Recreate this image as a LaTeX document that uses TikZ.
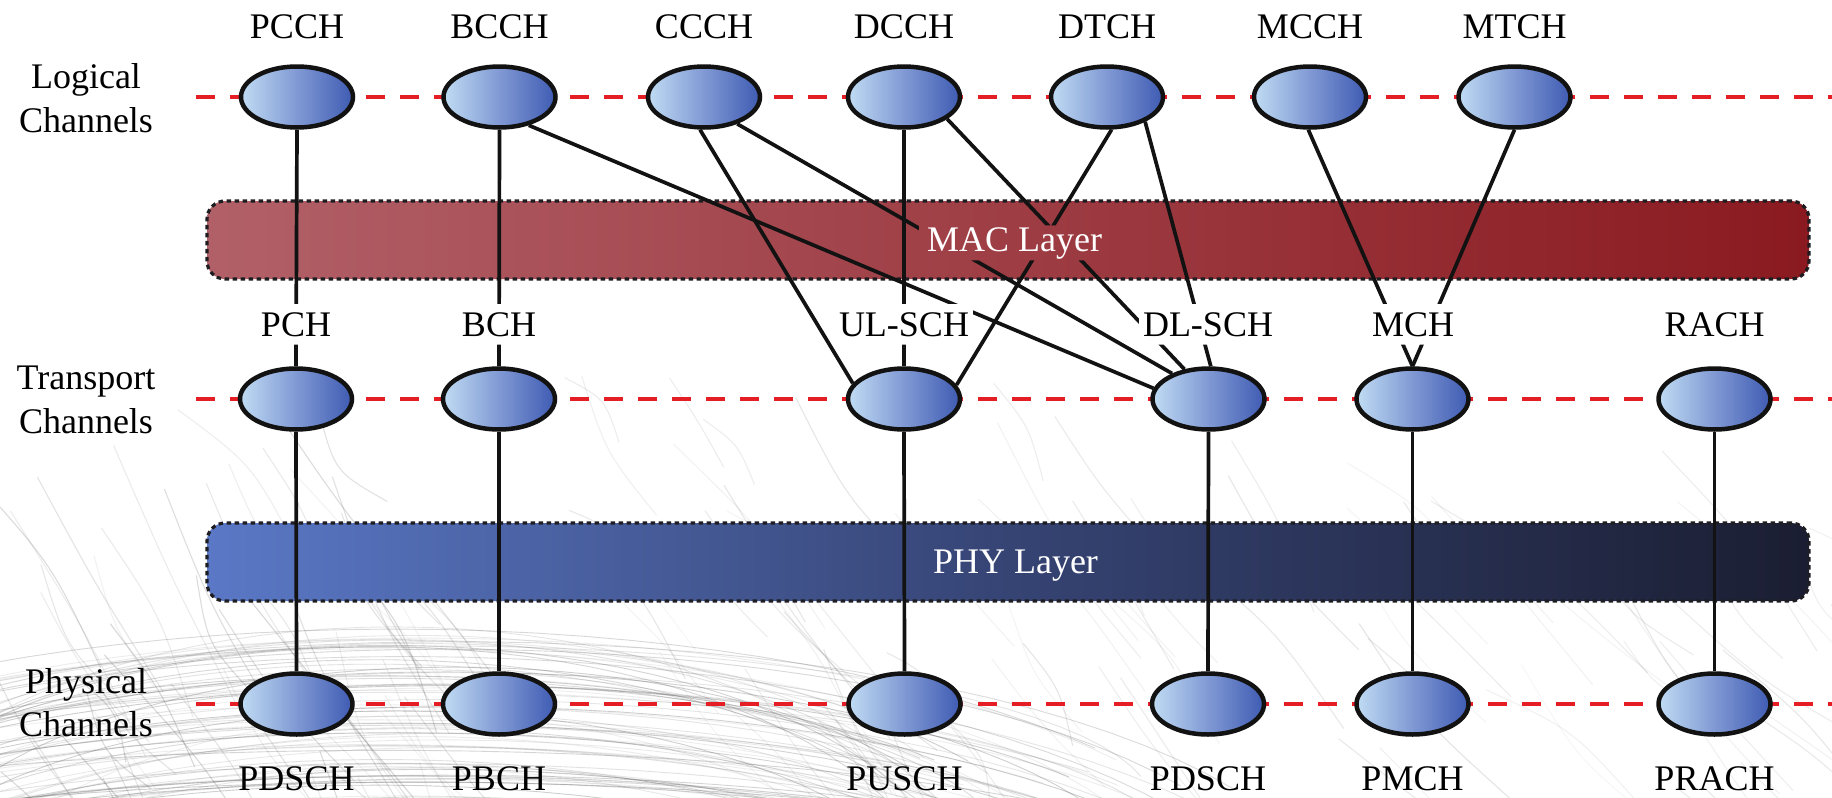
\documentclass[tikz,border=0pt]{standalone}
\usepackage{fontspec}
\setmainfont{Liberation Serif}
\usetikzlibrary{shapes.geometric}

\definecolor{chanred}{RGB}{228,30,36}
\definecolor{ellL}{RGB}{192,220,243}
\definecolor{ellM}{RGB}{128,153,212}
\definecolor{ellR}{RGB}{63,91,178}
\definecolor{macL}{RGB}{178,96,104}
\definecolor{macR}{RGB}{138,26,32}
\definecolor{phyL}{RGB}{90,120,198}
\definecolor{phyM}{RGB}{54,68,116}
\definecolor{phyR}{RGB}{27,30,50}
\definecolor{ink}{RGB}{18,18,18}
\definecolor{rim}{RGB}{30,30,34}

\tikzset{
  chan/.style={ellipse, draw=ink, line width=4.5pt, minimum width=112pt,
    minimum height=61pt, inner sep=0pt,
    left color=ellL, right color=ellR, middle color=ellM},
  lbl/.style={font=\fontsize{36}{43}\selectfont, anchor=base, inner sep=0pt, text=black},
  tlbl/.style={lbl, inner xsep=4pt, inner ysep=8pt},
  layerlbl/.style={lbl, text=white, inner xsep=8pt, inner ysep=1.5pt},
  layerbox/.style={rectangle, rounded corners=18pt, draw=rim, line width=3.2pt,
    dash pattern=on 4.5pt off 3.5pt, minimum width=1602pt, minimum height=78pt, inner sep=0pt},
  chanline/.style={draw=chanred, line width=4pt, dash pattern=on 19pt off 15pt},
  conn/.style={draw=ink, line width=3.7pt},
  bgline/.style={draw=black!60, line width=1.1pt},
}

\begin{document}
\begin{tikzpicture}[x=1pt,y=-1pt]
\useasboundingbox (0,0) rectangle (1832,798);
\fill[white] (0,0) rectangle (1832,798);

% faint brush-stroke texture in the lower half
\begin{scope}
  \clip (0,0) rectangle (1832,798);
  \pgfmathsetseed{2718}
  % sweeping arcs in the lower left
  \foreach \i in {1,...,75}{
    \pgfmathsetmacro\cx{370+90*rnd}
    \pgfmathsetmacro\ry{150+200*rnd}
    \pgfmathsetmacro\cy{625+175*rnd+\ry}
    \pgfmathsetmacro\rx{550+380*rnd}
    \pgfmathsetmacro\ta{10+30*rnd}
    \pgfmathsetmacro\tb{145+30*rnd}
    \pgfmathsetmacro\op{0.10+0.22*rnd}
    \draw[bgline, opacity=\op, line width=0.9pt] plot[domain=\ta:\tb, samples=40, variable=\t]
      ({\cx+\rx*cos(\t)}, {\cy-\ry*sin(\t)});
  }
  % hair strokes on the left
  \foreach \i in {1,...,60}{
    \pgfmathsetmacro\xa{-40+480*rnd}
    \pgfmathsetmacro\ya{380+420*rnd}
    \pgfmathsetmacro\ang{48+18*rnd}
    \pgfmathsetmacro\len{90+220*rnd}
    \pgfmathsetmacro\bend{-25+50*rnd}
    \pgfmathsetmacro\xb{\xa+\len*cos(\ang)}
    \pgfmathsetmacro\yb{\ya+\len*sin(\ang)}
    \pgfmathsetmacro\xc{(\xa+\xb)/2-\bend*sin(\ang)}
    \pgfmathsetmacro\yc{(\ya+\yb)/2+\bend*cos(\ang)}
    \pgfmathsetmacro\op{0.06+0.2*rnd}
    \draw[bgline, opacity=\op] (\xa,\ya) .. controls (\xc,\yc) .. (\xb,\yb);
  }
  % hair strokes in the middle
  \foreach \i in {1,...,50}{
    \pgfmathsetmacro\xa{560+700*rnd}
    \pgfmathsetmacro\ya{370+380*rnd}
    \pgfmathsetmacro\ang{45+20*rnd}
    \pgfmathsetmacro\len{80+180*rnd}
    \pgfmathsetmacro\bend{-20+40*rnd}
    \pgfmathsetmacro\xb{\xa+\len*cos(\ang)}
    \pgfmathsetmacro\yb{\ya+\len*sin(\ang)}
    \pgfmathsetmacro\xc{(\xa+\xb)/2-\bend*sin(\ang)}
    \pgfmathsetmacro\yc{(\ya+\yb)/2+\bend*cos(\ang)}
    \pgfmathsetmacro\op{0.05+0.12*rnd}
    \draw[bgline, opacity=\op] (\xa,\ya) .. controls (\xc,\yc) .. (\xb,\yb);
  }
  % hair strokes on the right
  \foreach \i in {1,...,35}{
    \pgfmathsetmacro\xa{1330+520*rnd}
    \pgfmathsetmacro\ya{430+370*rnd}
    \pgfmathsetmacro\ang{35+20*rnd}
    \pgfmathsetmacro\len{80+200*rnd}
    \pgfmathsetmacro\bend{-20+40*rnd}
    \pgfmathsetmacro\xb{\xa+\len*cos(\ang)}
    \pgfmathsetmacro\yb{\ya+\len*sin(\ang)}
    \pgfmathsetmacro\xc{(\xa+\xb)/2-\bend*sin(\ang)}
    \pgfmathsetmacro\yc{(\ya+\yb)/2+\bend*cos(\ang)}
    \pgfmathsetmacro\op{0.05+0.12*rnd}
    \draw[bgline, opacity=\op] (\xa,\ya) .. controls (\xc,\yc) .. (\xb,\yb);
  }
\end{scope}

% red channel rails
\coordinate (logL) at (196,97);  \coordinate (logR) at (1832,97);
\coordinate (trL)  at (196,399); \coordinate (trR)  at (1832,399);
\coordinate (phL)  at (196,704); \coordinate (phR)  at (1832,704);
\draw[chanline] (logL) -- (logR);
\draw[chanline] (trL) -- (trR);
\draw[chanline] (phL) -- (phR);

% layer bands
\node[layerbox, left color=macL, right color=macR] (macbox) at (1008,240) {};
\node[layerbox, left color=phyL, right color=phyR, middle color=phyM] (phybox) at (1008,562) {};
\node[layerlbl] (maclbl) at (1014.5,251) {MAC Layer};
\node[layerlbl] (phylbl) at (1015.5,573) {PHY Layer};

% row titles
\node[lbl] (logA) at (86,88) {Logical};
\node[lbl] (logB) at (86,132.5) {Channels};
\node[lbl] (trA) at (86,389) {Transport};
\node[lbl] (trB) at (86,433) {Channels};
\node[lbl] (phA) at (86,693) {Physical};
\node[lbl] (phB) at (86,736) {Channels};

% logical channels
\node[lbl] (PCCHlbl) at (297,38) {PCCH};
\node[lbl] (BCCHlbl) at (499.5,38) {BCCH};
\node[lbl] (CCCHlbl) at (704,38) {CCCH};
\node[lbl] (DCCHlbl) at (904,38) {DCCH};
\node[lbl] (DTCHlbl) at (1107,38) {DTCH};
\node[lbl] (MCCHlbl) at (1310,38) {MCCH};
\node[lbl] (MTCHlbl) at (1514.5,38) {MTCH};
\node[chan] (PCCH) at (297,97) {};
\node[chan] (BCCH) at (499.5,97) {};
\node[chan] (CCCH) at (704,97) {};
\node[chan] (DCCH) at (904,97) {};
\node[chan] (DTCH) at (1107,97) {};
\node[chan] (MCCH) at (1310,97) {};
\node[chan] (MTCH) at (1514.5,97) {};

% transport channels
\node[tlbl] (PCHlbl) at (296,336) {PCH};
\node[tlbl] (BCHlbl) at (499,336) {BCH};
\node[tlbl] (ULlbl) at (904,336) {UL-SCH};
\node[tlbl] (DLlbl) at (1208,336) {DL-SCH};
\node[tlbl] (MCHlbl) at (1413,336) {MCH};
\node[tlbl] (RACHlbl) at (1714.5,336) {RACH};
\node[chan] (PCH) at (296,399) {};
\node[chan] (BCH) at (499,399) {};
\node[chan] (ULSCH) at (904,399) {};
\node[chan] (DLSCH) at (1208.5,399) {};
\node[chan] (MCH) at (1412.5,399) {};
\node[chan] (RACH) at (1714.5,399) {};

% physical channels
\node[lbl] (PDSCHalbl) at (296.5,790) {PDSCH};
\node[lbl] (PBCHlbl) at (499,790) {PBCH};
\node[lbl] (PUSCHlbl) at (904.5,790) {PUSCH};
\node[lbl] (PDSCHblbl) at (1208,790) {PDSCH};
\node[lbl] (PMCHlbl) at (1412.5,790) {PMCH};
\node[lbl] (PRACHlbl) at (1714.5,790) {PRACH};
\node[chan] (PDSCHa) at (296.5,704) {};
\node[chan] (PBCH) at (499,704) {};
\node[chan] (PUSCH) at (904.5,704) {};
\node[chan] (PDSCHb) at (1208,704) {};
\node[chan] (PMCH) at (1412.5,704) {};
\node[chan] (PRACH) at (1714.5,704) {};

% channel mappings; labels cut gaps into the lines they sit on
\begin{scope}
  \clip (0,0) rectangle (1832,798)
    (PCHlbl.south west) rectangle (PCHlbl.north east)
    (BCHlbl.south west) rectangle (BCHlbl.north east)
    (ULlbl.south west) rectangle (ULlbl.north east)
    (DLlbl.south west) rectangle (DLlbl.north east)
    (MCHlbl.south west) rectangle (MCHlbl.north east)
    (maclbl.south west) rectangle (maclbl.north east);
  \draw[conn] (PCCH.south) -- (PCH.north);
  \draw[conn] (BCCH.south) -- (BCH.north);
  \draw[conn] (BCCH.-44) -- (DLSCH.169);
  \draw[conn] (CCCH.-97) -- (ULSCH.163);
  \draw[conn] (CCCH.-39) -- (DLSCH.145);
  \draw[conn] (DCCH.south) -- (ULSCH.north);
  \draw[conn] (DCCH.-27) -- (DLSCH.129);
  \draw[conn] (DTCH.-82) -- (ULSCH.15);
  \draw[conn] (DTCH.-33) -- (DLSCH.86);
  \draw[conn] (MCCH.-93) -- (MCH.north);
  \draw[conn] (MTCH.south) -- (MCH.north);
  \draw[conn] (PCH.south) -- (PDSCHa.north);
  \draw[conn] (BCH.south) -- (PBCH.north);
  \draw[conn] (ULSCH.south) -- (PUSCH.north);
  \draw[conn] (DLSCH.south) -- (PDSCHb.north);
  \draw[conn] (MCH.south) -- (PMCH.north);
  \draw[conn] (RACH.south) -- (PRACH.north);
\end{scope}
\end{tikzpicture}
\end{document}
